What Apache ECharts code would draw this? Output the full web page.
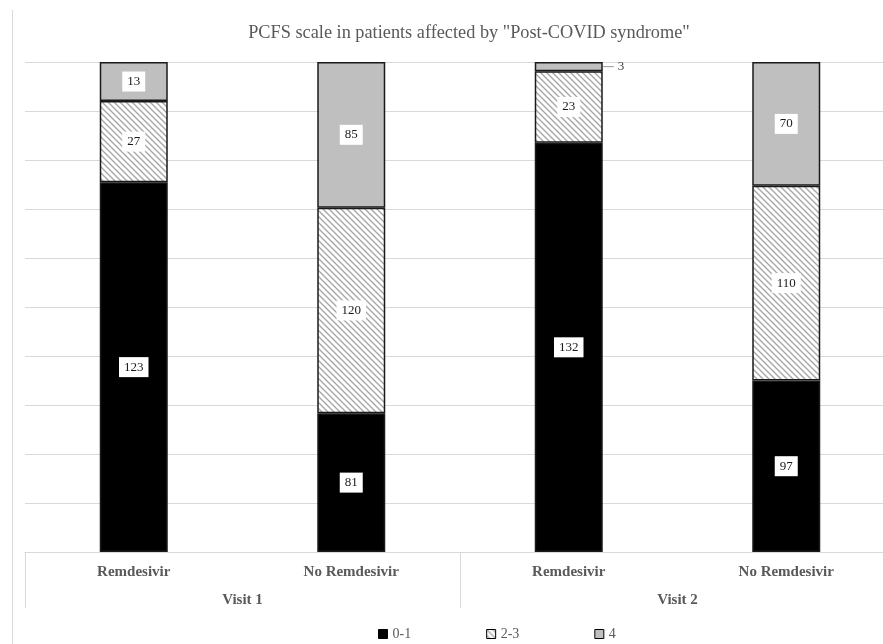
<!DOCTYPE html>
<html><head><meta charset="utf-8">
<script src="https://cdn.jsdelivr.net/npm/echarts@6/dist/echarts.min.js"></script>
<style>html,body{margin:0;padding:0;background:#fff;overflow:hidden;width:883px;height:644px}#c{width:895px;height:644px}</style>
</head><body><div id="c"></div>
<script>
const titleText = 'PCFS scale in patients affected by "Post-COVID syndrome"';
const categories = ['Remdesivir', 'No Remdesivir', 'Remdesivir', 'No Remdesivir'];
const groups = ['Visit 1', 'Visit 2'];
const seriesNames = ['0-1', '2-3', '4'];
const s01 = [123, 81, 132, 97];
const s23 = [27, 120, 23, 110];
const s4 = [13, 85, 3, 70];

const totals = categories.map((_, i) => s01[i] + s23[i] + s4[i]);
const pct = arr => arr.map((v, i) => ({ value: v / totals[i], raw: v }));

// hatch pattern
const pc = document.createElement('canvas');
pc.width = 6; pc.height = 6;
const g = pc.getContext('2d');
g.fillStyle = '#fff'; g.fillRect(0, 0, 6, 6);
g.strokeStyle = '#a8a8a8'; g.lineWidth = 1.4;
g.beginPath();
g.moveTo(-1, -1); g.lineTo(7, 7);
g.moveTo(-4, 2); g.lineTo(4, 10);
g.moveTo(2, -4); g.lineTo(10, 4);
g.stroke();

const serif = '"Liberation Serif", "Times New Roman", serif';
const labelBase = {
  show: true, position: 'inside', color: '#1a1a1a', fontFamily: serif, fontSize: 13,
  backgroundColor: '#fff', padding: [4, 5, 3, 5],
  formatter: p => p.data.raw
};

const chart = echarts.init(document.getElementById('c'));
const fills = ['#000', { image: pc, repeat: 'repeat' }, '#bfbfbf'];
const vals = [s01, s23, s4];
const series = seriesNames.map((n, k) => ({
  name: n, type: 'bar', stack: 'a', barWidth: 68, xAxisIndex: 0,
  itemStyle: { color: fills[k], borderColor: '#1a1a1a', borderWidth: 1.5 },
  label: labelBase,
  data: pct(vals[k]).map((d, i) => {
    if (k === 2 && vals[k][i] / totals[i] < 0.03) {
      d.label = {
        show: true, position: 'right', distance: 0, backgroundColor: 'transparent', padding: 0,
        formatter: p => '{l|}{v|' + p.data.raw + '}',
        rich: { l: { width: 11, height: 1, backgroundColor: '#999' }, v: { fontFamily: serif, fontSize: 13, color: '#404040', padding: [0, 0, 0, 4] } }
      };
    }
    return d;
  }),
  emphasis: { disabled: true }
}));

chart.setOption({
  animation: false,
  title: { text: titleText, left: 464, top: 19, textAlign: 'center',
    textStyle: { fontFamily: serif, fontSize: 18.3, fontWeight: 'normal', color: '#595959' } },
  legend: { data: seriesNames, left: 373, top: 622, itemWidth: 9, itemHeight: 9, itemGap: 75, icon: 'rect',
    textStyle: { fontFamily: serif, fontSize: 14, color: '#595959' },
    itemStyle: { borderColor: '#000', borderWidth: 1 } },
  graphic: [{ type: 'line', shape: { x1: 12.5, y1: 10, x2: 12.5, y2: 644 }, style: { stroke: '#d9d9d9', lineWidth: 1 } }],
  grid: { left: 25, right: 0, top: 62, bottom: 92 },
  xAxis: [
    { type: 'category', data: categories, position: 'bottom',
      axisLine: { lineStyle: { color: '#d9d9d9' } }, axisTick: { show: false },
      axisLabel: { margin: 13, fontFamily: serif, fontSize: 15, fontWeight: 'bold', color: '#595959' } },
    { type: 'category', data: groups, position: 'bottom',
      axisLine: { lineStyle: { color: '#d9d9d9' } },
      axisTick: { show: true, length: 56, interval: 0, lineStyle: { color: '#d9d9d9' } },
      axisLabel: { margin: 41, fontFamily: serif, fontSize: 15, fontWeight: 'bold', color: '#595959' } }
  ],
  yAxis: { type: 'value', min: 0, max: 1, interval: 0.1,
    axisLabel: { show: false }, axisLine: { show: false }, axisTick: { show: false },
    splitLine: { lineStyle: { color: '#d9d9d9' } } },
  series
});
</script></body></html>
